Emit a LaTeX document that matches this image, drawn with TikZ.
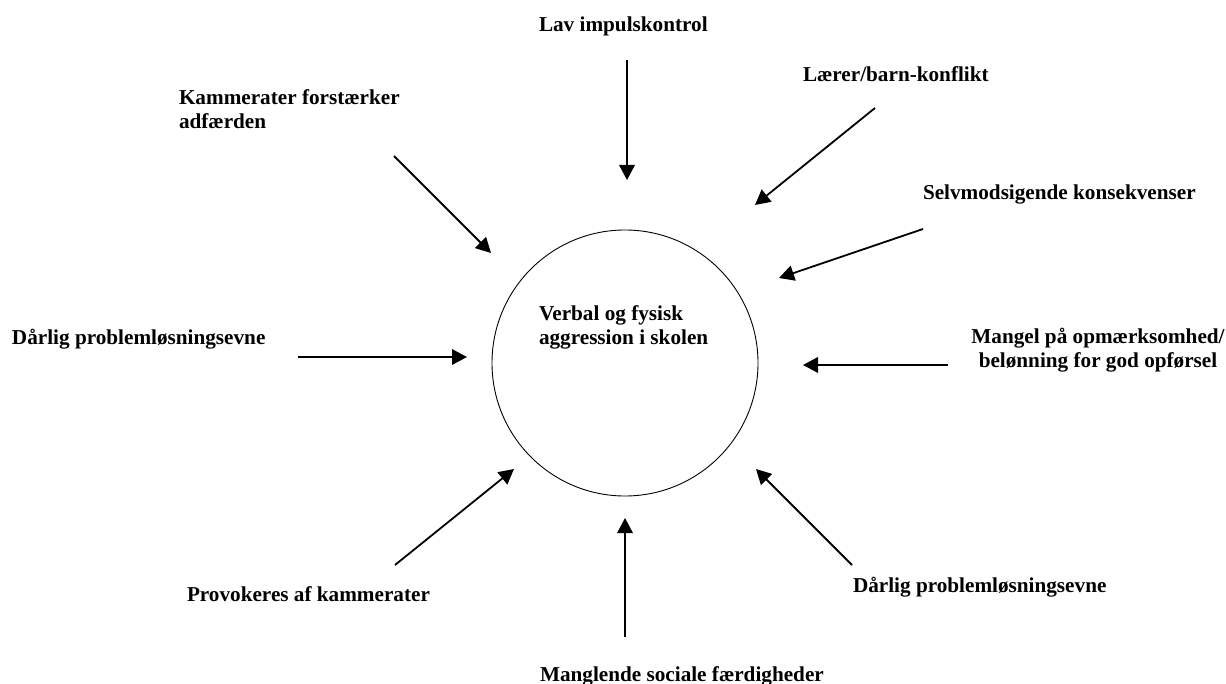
\documentclass[tikz,border=0pt]{standalone}
\usepackage{fontspec}
\setmainfont{Liberation Serif}
\usetikzlibrary{arrows.meta}
\begin{document}
\begin{tikzpicture}[x=1pt,y=-1pt,
  lbl/.style={font=\fontsize{21.2}{24.5}\selectfont\bfseries, inner sep=0pt, outer sep=0pt},
  arr/.style={line width=1.8pt, -{Triangle[length=15pt,width=15.5pt]}},
  ring/.style={circle, draw, line width=0.9pt, minimum size=266pt, inner sep=0pt}]
\useasboundingbox (0,0) rectangle (1226,684);
% centre
\node[ring] (c) at (625,363) {};
\node[lbl, align=left, anchor=base west] (ct) at (539,345) {Verbal og fysisk\\aggression i skolen};
% labels
\node[lbl, anchor=base west] (t1) at (539,32) {Lav impulskontrol};
\node[lbl, anchor=base west] (t2) at (803,82) {Lærer/barn-konflikt};
\node[lbl, anchor=base west] (t3) at (923,200) {Selvmodsigende konsekvenser};
\node[lbl, align=left, anchor=base west] (t4) at (179,129) {Kammerater forstærker\\adfærden};
\node[lbl, anchor=base west] (t5) at (12,345) {Dårlig problemløsningsevne};
\node[lbl, align=center, anchor=base] (t6) at (1098,368) {Mangel på opmærksomhed/\\belønning for god opførsel};
\node[lbl, anchor=base west] (t7) at (187,601) {Provokeres af kammerater};
\node[lbl, anchor=base west] (t8) at (540,681) {Manglende sociale færdigheder};
\node[lbl, anchor=base west] (t9) at (853,592) {Dårlig problemløsningsevne};
% arrow ends
\coordinate (s1) at (627,60);  \coordinate (e1) at (627,180);
\coordinate (s2) at (875,108); \coordinate (e2) at (755,205);
\coordinate (s3) at (923,229); \coordinate (e3) at (779,278);
\coordinate (s4) at (394,156); \coordinate (e4) at (491,253);
\coordinate (s5) at (298,357); \coordinate (e5) at (467,357);
\coordinate (s6) at (948,365); \coordinate (e6) at (803,365);
\coordinate (s7) at (395,565); \coordinate (e7) at (514,469);
\coordinate (s8) at (625,637); \coordinate (e8) at (625,518);
\coordinate (s9) at (852,565); \coordinate (e9) at (756,469);
\foreach \i in {1,...,9} { \draw[arr] (s\i) -- (e\i); }
\end{tikzpicture}
\end{document}
